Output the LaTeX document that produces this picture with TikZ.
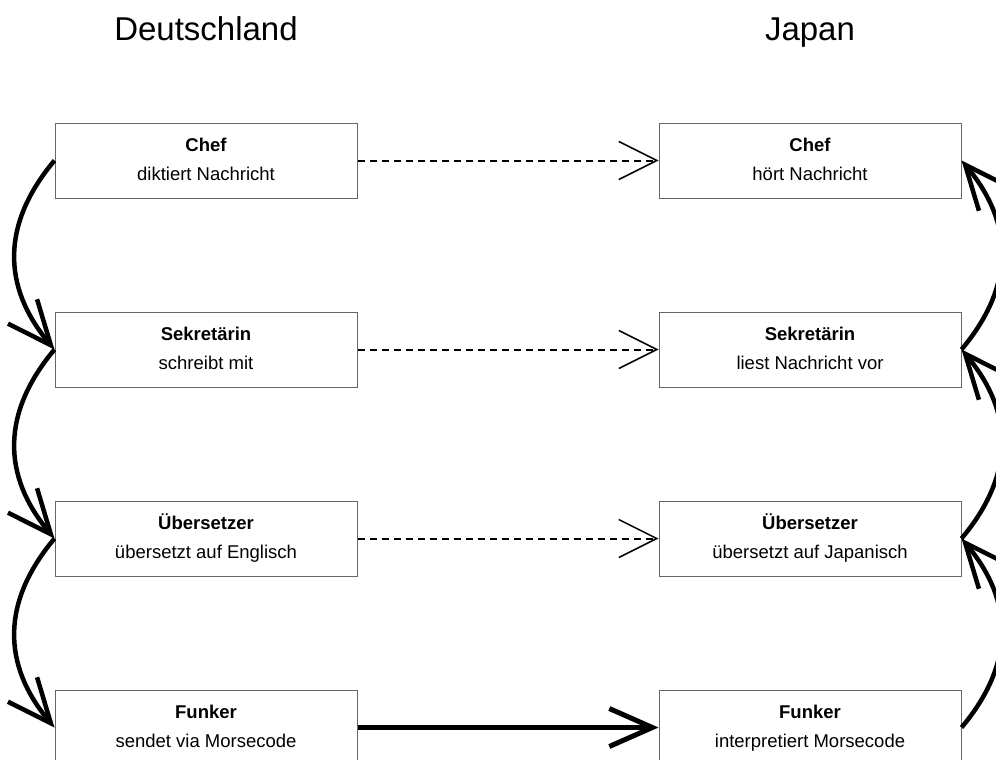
\documentclass[tikz,border=0pt]{standalone}
\usepackage{fontspec}
\setmainfont{Liberation Sans}
\usetikzlibrary{arrows.meta}
\definecolor{boxgray}{HTML}{666666}
% two-line box label: role in bold, activity below
\newcommand{\rolelabel}[2]{\textbf{#1}\strut\\#2\strut}
\begin{document}
\begin{tikzpicture}[x=1pt,y=-1pt,
  box/.style={draw=boxgray, line width=1pt, minimum width=302pt, minimum height=75pt,
    inner sep=0pt, align=center, font=\fontsize{18.5}{29}\selectfont},
  title/.style={font=\fontsize{33}{40}\selectfont, anchor=base},
  talk/.style={line width=2pt, dash pattern=on 7pt off 5pt,
    -{Straight Barb[length=38pt,width=38pt,line width=1.5pt]}},
  radio/.style={line width=5pt, -{Straight Barb[length=43pt,width=38pt,line width=5pt]}},
  handoff/.style={line width=4.5pt, -{Straight Barb[length=44pt,width=38pt,line width=4.5pt]}}
]
\useasboundingbox (0,0) rectangle (996,760);
\clip (0,0) rectangle (996,760);

\node[title] (de) at (206,41) {Deutschland};
\node[title] (jp) at (810,41) {Japan};

% German side
\node[box] (d1) at (206,160.5) {\rolelabel{Chef}{diktiert Nachricht}};
\node[box] (d2) at (206,349.5) {\rolelabel{Sekretärin}{schreibt mit}};
\node[box] (d3) at (206,538.5) {\rolelabel{Übersetzer}{übersetzt auf Englisch}};
\node[box] (d4) at (206,727.5) {\rolelabel{Funker}{sendet via Morsecode}};

% Japanese side
\node[box] (j1) at (810,160.5) {\rolelabel{Chef}{hört Nachricht}};
\node[box] (j2) at (810,349.5) {\rolelabel{Sekretärin}{liest Nachricht vor}};
\node[box] (j3) at (810,538.5) {\rolelabel{Übersetzer}{übersetzt auf Japanisch}};
\node[box] (j4) at (810,727.5) {\rolelabel{Funker}{interpretiert Morsecode}};

% virtual communication between peer layers
\draw[talk] (d1.east) -- (j1.west);
\draw[talk] (d2.east) -- (j2.west);
\draw[talk] (d3.east) -- (j3.west);
% physical transmission
\draw[radio] (d4.east) -- (j4.west);

% down the German stack
\draw[handoff] (d1.west) .. controls +(-53,63) and +(-53,-63) .. (d2.west);
\draw[handoff] (d2.west) .. controls +(-53,63) and +(-53,-63) .. (d3.west);
\draw[handoff] (d3.west) .. controls +(-53,63) and +(-53,-63) .. (d4.west);

% up the Japanese stack
\draw[handoff] (j4.east) .. controls +(53,-63) and +(53,63) .. (j3.east);
\draw[handoff] (j3.east) .. controls +(53,-63) and +(53,63) .. (j2.east);
\draw[handoff] (j2.east) .. controls +(53,-63) and +(53,63) .. (j1.east);
\end{tikzpicture}
\end{document}
